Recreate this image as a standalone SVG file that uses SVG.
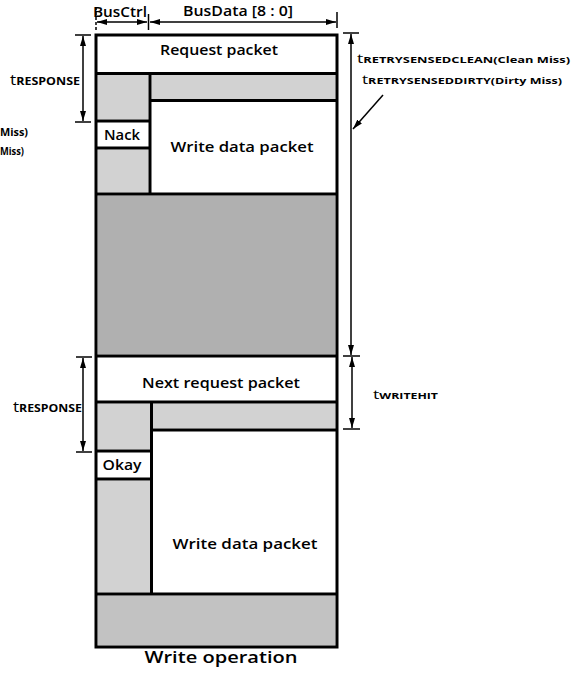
<svg xmlns="http://www.w3.org/2000/svg" width="583" height="673" viewBox="0 0 583 673">
<defs>
<marker id="ah" viewBox="0 0 10 6" refX="10" refY="3" markerWidth="10" markerHeight="6" markerUnits="userSpaceOnUse" orient="auto-start-reverse">
<path d="M0,0 L10,3 L0,6 Z" fill="#000"/>
</marker>
<style>
.ln{stroke:#000;stroke-width:3;fill:none}
.sh{fill:#d2d2d2}
.shd{fill:#b0b0b0}
.shm{fill:#c2c2c2}
.t{font-family:"Open Sans","DejaVu Sans",sans-serif;font-weight:600;fill:#000}
.b{font-size:15px}
.dim{stroke:#000;stroke-width:1.5;fill:none}
.tk{stroke:#000;stroke-width:1.5}
.lbl{font-family:"Open Sans","DejaVu Sans",sans-serif;font-weight:700;fill:#000}
</style>
</defs>
<rect width="583" height="673" fill="#fff"/>

<g id="header">
<text class="t" x="93" y="17" font-size="15" textLength="54" lengthAdjust="spacingAndGlyphs">BusCtrl</text>
<text class="t" x="183" y="16" font-size="15" textLength="110" lengthAdjust="spacingAndGlyphs">BusData [8 : 0]</text>
</g>

<g id="request-packet">
<text class="t b" x="219" y="55" text-anchor="middle" textLength="118" lengthAdjust="spacingAndGlyphs">Request packet</text>
</g>
<g id="busctrl-idle-1"><rect class="sh" x="97.5" y="75" width="51" height="44.5"/></g>
<g id="busdata-idle-1"><rect class="sh" x="151.5" y="75" width="184" height="24"/></g>
<g id="nack">
<text class="t b" x="122" y="140" text-anchor="middle" textLength="36" lengthAdjust="spacingAndGlyphs">Nack</text>
</g>
<g id="busctrl-idle-2"><rect class="sh" x="97.5" y="149.5" width="51" height="43"/></g>
<g id="write-data-packet-1">
<text class="t b" x="242" y="152" text-anchor="middle" textLength="143" lengthAdjust="spacingAndGlyphs">Write data packet</text>
</g>
<g id="retry-gap"><rect class="shd" x="97.5" y="195.5" width="238" height="159"/></g>
<g id="next-request-packet">
<text class="t b" x="221" y="388" text-anchor="middle" textLength="158" lengthAdjust="spacingAndGlyphs">Next request packet</text>
</g>
<g id="busctrl-idle-3"><rect class="sh" x="97.5" y="403.5" width="52.5" height="46"/></g>
<g id="busdata-idle-3"><rect class="sh" x="153" y="403.5" width="182.5" height="25"/></g>
<g id="okay">
<text class="t b" x="122" y="470" text-anchor="middle" textLength="39" lengthAdjust="spacingAndGlyphs">Okay</text>
</g>
<g id="busctrl-idle-4"><rect class="sh" x="97.5" y="480.5" width="52.5" height="112"/></g>
<g id="write-data-packet-2">
<text class="t b" x="245" y="549" text-anchor="middle" textLength="145" lengthAdjust="spacingAndGlyphs">Write data packet</text>
</g>
<g id="bottom-idle"><rect class="shm" x="97.5" y="595.5" width="238" height="50"/></g>

<g id="frame">
<rect class="ln" x="96" y="35" width="241" height="612"/>
<line class="ln" x1="96" y1="73.5" x2="337" y2="73.5"/>
<line class="ln" x1="150" y1="73.5" x2="150" y2="194"/>
<line class="ln" x1="150" y1="100.5" x2="337" y2="100.5"/>
<line class="ln" x1="96" y1="121" x2="150" y2="121"/>
<line class="ln" x1="96" y1="148" x2="150" y2="148"/>
<line class="ln" x1="96" y1="194" x2="337" y2="194"/>
<line class="ln" x1="96" y1="356" x2="337" y2="356"/>
<line class="ln" x1="96" y1="402" x2="337" y2="402"/>
<line class="ln" x1="151.5" y1="402" x2="151.5" y2="594"/>
<line class="ln" x1="151.5" y1="430" x2="337" y2="430"/>
<line class="ln" x1="96" y1="451" x2="151.5" y2="451"/>
<line class="ln" x1="96" y1="479" x2="151.5" y2="479"/>
<line class="ln" x1="96" y1="594" x2="337" y2="594"/>
</g>

<g id="connectors">
<line class="tk" x1="96" y1="7" x2="96" y2="30" stroke-dasharray="3,2"/>
<line class="tk" x1="148.5" y1="14" x2="148.5" y2="30"/>
<line class="tk" x1="337" y1="12" x2="337" y2="28"/>
<line class="dim" x1="97" y1="22" x2="147" y2="22" marker-start="url(#ah)" marker-end="url(#ah)"/>
<line class="dim" x1="150" y1="22" x2="336" y2="22" marker-start="url(#ah)" marker-end="url(#ah)"/>

<line class="tk" x1="75" y1="35" x2="91" y2="35"/>
<line class="tk" x1="75" y1="122" x2="91" y2="122"/>
<line class="dim" x1="83" y1="36" x2="83" y2="121" marker-start="url(#ah)" marker-end="url(#ah)"/>

<line class="tk" x1="343" y1="33" x2="359" y2="33"/>
<line class="tk" x1="343" y1="356" x2="360" y2="356"/>
<line class="dim" x1="351" y1="34" x2="351" y2="355" marker-start="url(#ah)" marker-end="url(#ah)"/>
<line class="dim" x1="383" y1="95" x2="353" y2="129" marker-end="url(#ah)"/>

<line class="tk" x1="343" y1="429" x2="360" y2="429"/>
<line class="dim" x1="352" y1="357" x2="352" y2="428" marker-start="url(#ah)" marker-end="url(#ah)"/>

<line class="tk" x1="76" y1="357" x2="92" y2="357"/>
<line class="tk" x1="76" y1="452" x2="92" y2="452"/>
<line class="dim" x1="83" y1="358" x2="83" y2="451" marker-start="url(#ah)" marker-end="url(#ah)"/>
</g>

<g id="labels">
<text class="lbl" x="10" y="85" textLength="70" lengthAdjust="spacingAndGlyphs"><tspan font-size="14" font-weight="400">t</tspan><tspan font-size="10">RESPONSE</tspan></text>
<text class="lbl" x="13" y="412" textLength="69" lengthAdjust="spacingAndGlyphs"><tspan font-size="14" font-weight="400">t</tspan><tspan font-size="10">RESPONSE</tspan></text>
<text class="lbl" x="373" y="399" textLength="65" lengthAdjust="spacingAndGlyphs"><tspan font-size="13" font-weight="400">t</tspan><tspan font-size="9">WRITEHIT</tspan></text>
<text class="lbl" x="357" y="63" textLength="213" lengthAdjust="spacingAndGlyphs"><tspan font-size="13" font-weight="400">t</tspan><tspan font-size="9.5">RETRYSENSEDCLEAN(Clean Miss)</tspan></text>
<text class="lbl" x="362" y="84" textLength="200" lengthAdjust="spacingAndGlyphs"><tspan font-size="13" font-weight="400">t</tspan><tspan font-size="9.5">RETRYSENSEDDIRTY(Dirty Miss)</tspan></text>
<text class="lbl" x="0" y="136" font-size="10" textLength="28" lengthAdjust="spacingAndGlyphs">Miss)</text>
<text class="lbl" x="0" y="155" font-size="10" textLength="24" lengthAdjust="spacingAndGlyphs">Miss)</text>
<text class="t" x="221" y="663" font-size="17" text-anchor="middle" textLength="153" lengthAdjust="spacingAndGlyphs">Write operation</text>
</g>
</svg>
